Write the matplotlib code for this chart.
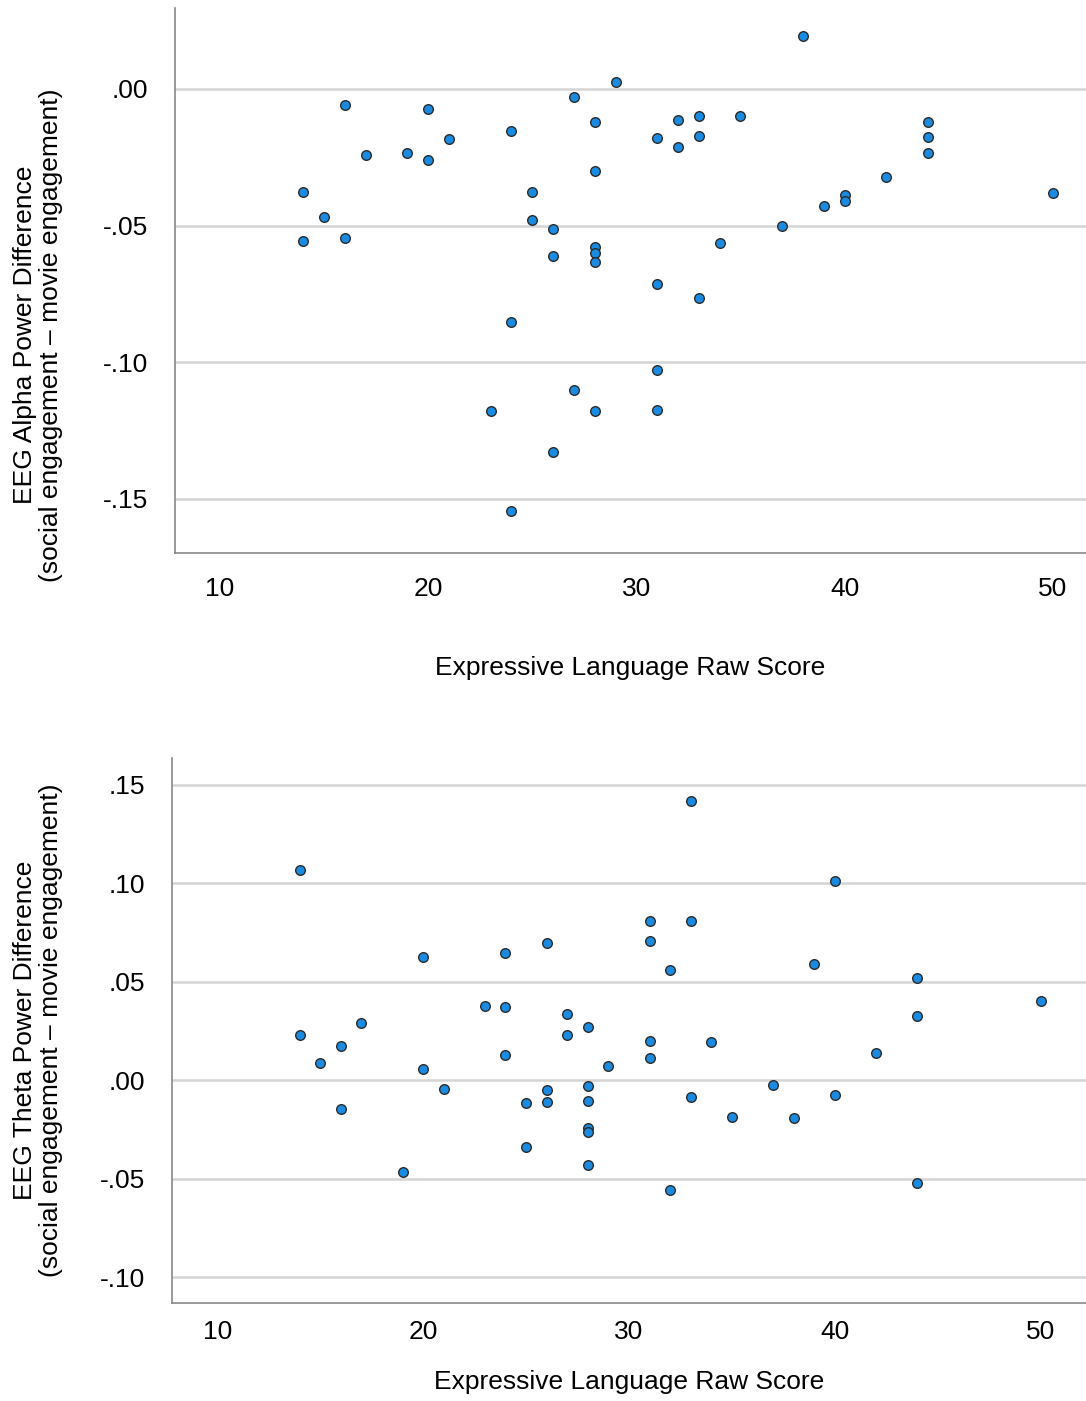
import matplotlib
matplotlib.use("Agg")
import matplotlib.pyplot as plt
import numpy as np

plt.rcParams['font.family'] = ['Liberation Sans', 'DejaVu Sans']

# Top panel: EEG Alpha Power Difference
alpha_x = [14, 14, 15, 16, 16, 17, 19, 20, 20, 21, 23, 24, 24, 24, 25, 25, 26, 26, 26,
           27, 27, 28, 28, 28, 28, 28, 28, 29, 31, 31, 31, 31, 32, 32, 33, 33, 33, 34,
           35, 37, 38, 39, 40, 40, 42, 44, 44, 44, 50]
alpha_y = [-0.0377, -0.0556, -0.0468, -0.0059, -0.0545, -0.0241, -0.0234, -0.0073, -0.0260,
           -0.0183, -0.1178, -0.0154, -0.0852, -0.1544, -0.0377, -0.0479, -0.0512, -0.0611,
           -0.1328, -0.0029, -0.1101, -0.0121, -0.0300, -0.0578, -0.0600, -0.0633, -0.1178,
           0.0026, -0.0179, -0.0713, -0.1028, -0.1174, -0.0113, -0.0212, -0.0099, -0.0172,
           -0.0765, -0.0563, -0.0099, -0.0501, 0.0194, -0.0428, -0.0388, -0.0410, -0.0322,
           -0.0121, -0.0176, -0.0234, -0.0380]

# Bottom panel: EEG Theta Power Difference
theta_x = [14, 14, 15, 16, 16, 17, 19, 20, 20, 21, 23, 24, 24, 24, 25, 25, 26, 26, 26,
           27, 27, 28, 28, 28, 28, 28, 28, 29, 31, 31, 31, 31, 32, 32, 33, 33, 33, 34,
           35, 37, 38, 39, 40, 40, 42, 44, 44, 44, 50]
theta_y = [0.1067, 0.0229, 0.0086, 0.0173, -0.0147, 0.0290, -0.0467, 0.0625, 0.0056,
           -0.0046, 0.0376, 0.0645, 0.0371, 0.0127, -0.0117, -0.0340, 0.0696, -0.0051,
           -0.0112, 0.0335, 0.0229, 0.0269, -0.0030, -0.0102, -0.0244, -0.0264, -0.0427,
           0.0071, 0.0808, 0.0706, 0.0198, 0.0112, 0.0559, -0.0554, 0.1417, 0.0808,
           -0.0086, 0.0193, -0.0188, -0.0025, -0.0193, 0.0589, 0.1011, -0.0076, 0.0137,
           0.0518, 0.0325, -0.0523, 0.0401]

x_ticks = [10, 20, 30, 40, 50]
alpha_ticks = [0.00, -0.05, -0.10, -0.15]
alpha_labels = ['.00', '-.05', '-.10', '-.15']
theta_ticks = [0.15, 0.10, 0.05, 0.00, -0.05, -0.10]
theta_labels = ['.15', '.10', '.05', '.00', '-.05', '-.10']

xlabel = 'Expressive Language Raw Score'
alpha_ylabel = 'EEG Alpha Power Difference\n(social engagement \u2013 movie engagement)'
theta_ylabel = 'EEG Theta Power Difference\n(social engagement \u2013 movie engagement)'

FS = 19

fig = plt.figure(figsize=(10.86, 14.01), dpi=100)
W, H = 1086, 1401

def make_ax(left, top, right, bottom):
    return fig.add_axes([left / W, 1 - bottom / H, (right - left) / W, (bottom - top) / H])

ax1 = make_ax(175, 8, 1086, 553)
ax2 = make_ax(172, 758, 1086, 1303)

def style(ax, xs, ys, yticks, ylabels, ylim, xlim, ylab, xpad, xlabpad, ylab_xy):
    ax.scatter(xs, ys, s=48, facecolor='#1a8be0', edgecolor='#2b2b2b', linewidths=1.0, zorder=3)
    ax.set_xlim(*xlim)
    ax.set_ylim(*ylim)
    ax.set_yticks(yticks)
    ax.set_yticklabels(ylabels)
    ax.set_xticks(x_ticks)
    ax.set_xticklabels([str(t) for t in x_ticks])
    ax.grid(axis='y', color='#d4d4d4', linewidth=1.8, zorder=0)
    ax.grid(axis='x', visible=False)
    ax.set_axisbelow(True)
    for s in ['top', 'right']:
        ax.spines[s].set_visible(False)
    for s in ['left', 'bottom']:
        ax.spines[s].set_color('#888888')
        ax.spines[s].set_linewidth(1.2)
    ax.tick_params(axis='both', length=0, labelsize=FS, colors='black')
    ax.tick_params(axis='y', pad=19)
    ax.tick_params(axis='x', pad=xpad)
    ax.set_xlabel(xlabel, fontsize=FS, labelpad=xlabpad)
    ax.set_ylabel(ylab, fontsize=FS, linespacing=1.1)
    ax.yaxis.set_label_coords(*ylab_xy)

style(ax1, alpha_x, alpha_y, alpha_ticks, alpha_labels, (-0.1698, 0.0296), (7.84, 51.6),
      alpha_ylabel, 17, 40, ((63 - 175) / 911, 0.40))
style(ax2, theta_x, theta_y, theta_ticks, theta_labels, (-0.113, 0.1637), (7.8, 52.2),
      theta_ylabel, 12, 19, ((63 - 172) / 914, 0.5))

fig.savefig('out.png', dpi=100)
